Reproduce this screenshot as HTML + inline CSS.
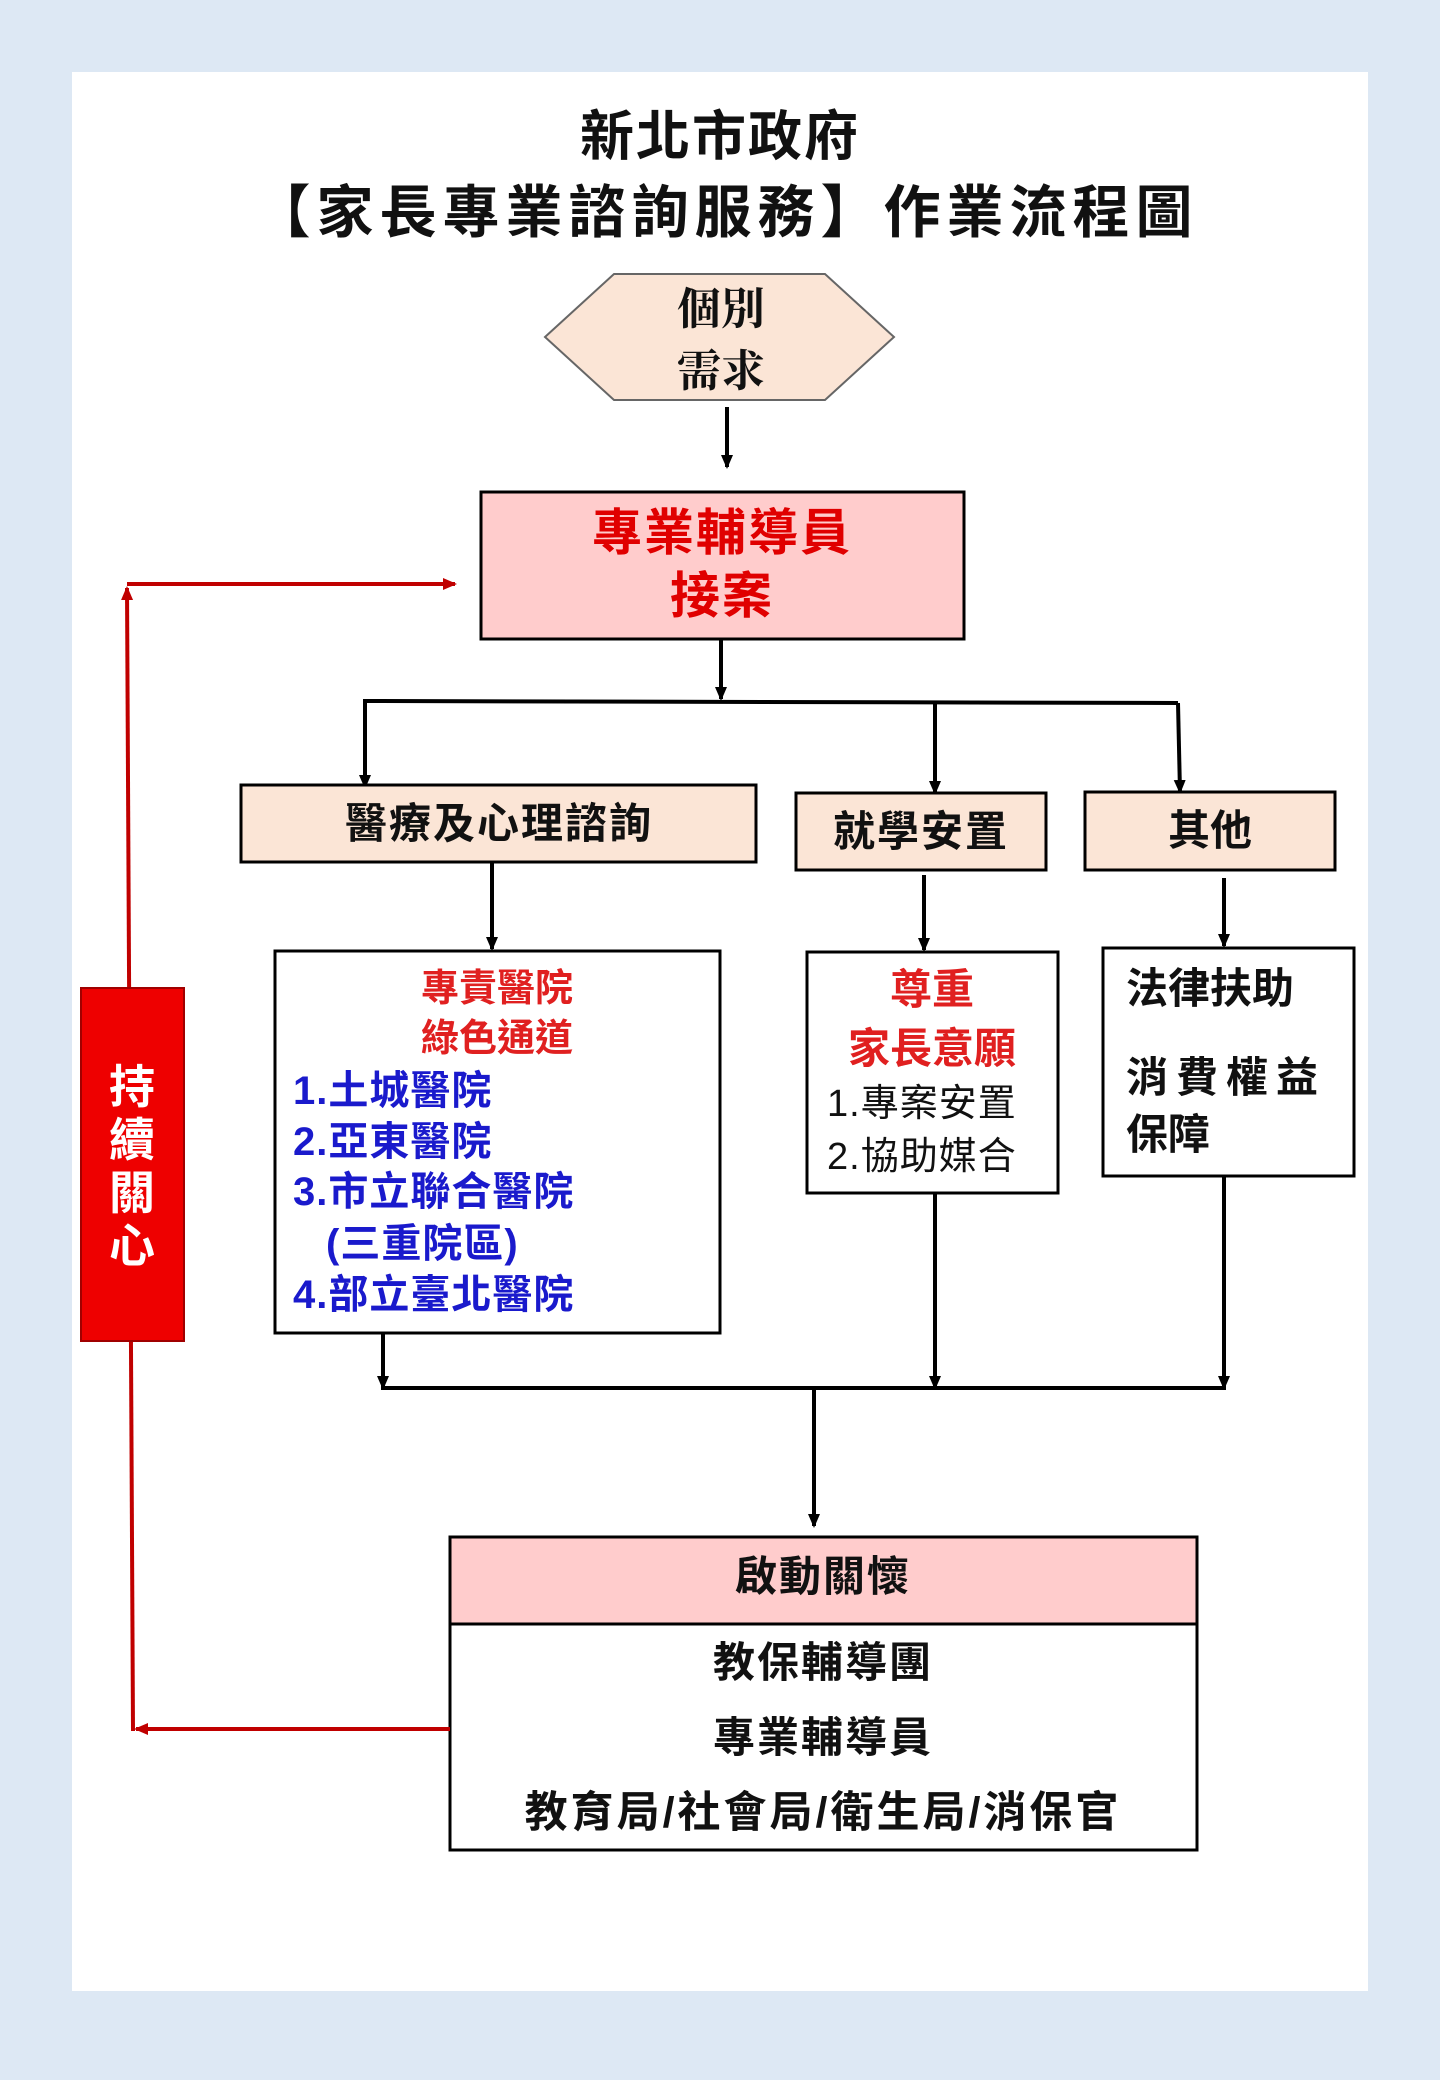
<!DOCTYPE html>
<html><head><meta charset="utf-8"><style>
html,body{margin:0;padding:0;background:#dde8f4;}
svg{display:block}
text{font-family:"Liberation Sans","Noto Sans CJK TC",sans-serif;font-weight:bold}
</style></head><body>
<svg width="1440" height="2080" viewBox="0 0 1440 2080" xmlns="http://www.w3.org/2000/svg">
<defs>
<marker id="ar" markerWidth="14" markerHeight="12" refX="12" refY="6" orient="auto" markerUnits="userSpaceOnUse"><path d="M0,0 L14,6 L0,12 z" fill="#c00000"/></marker>
<marker id="ak" markerWidth="14" markerHeight="12" refX="12" refY="6" orient="auto" markerUnits="userSpaceOnUse"><path d="M0,0 L14,6 L0,12 z" fill="#000"/></marker>
</defs>
<rect x="0" y="0" width="1440" height="2080" fill="#dde8f4"/>
<rect x="72" y="72" width="1296" height="1919" fill="#fff"/>

<text x="720" y="155" font-size="54" text-anchor="middle" fill="#111" letter-spacing="2">新北市政府</text>
<text x="726" y="232" font-size="57" text-anchor="middle" fill="#111" letter-spacing="6">【家長專業諮詢服務】作業流程圖</text>

<polygon points="545,337 614,274 825,274 894,337 825,400 614,400" fill="#fbe5d6" stroke="#666" stroke-width="2"/>
<text x="721" y="324" font-size="44" text-anchor="middle" fill="#111" style="font-family:'Noto Serif CJK SC','Liberation Serif',serif">個別</text>
<text x="721" y="386" font-size="44" text-anchor="middle" fill="#111" style="font-family:'Noto Serif CJK SC','Liberation Serif',serif">需求</text>
<line x1="727" y1="407" x2="727" y2="467" stroke="#000" stroke-width="4" marker-end="url(#ak)"/>

<rect x="481" y="492" width="483" height="147" fill="#ffcccc" stroke="#000" stroke-width="3"/>
<text x="722" y="550" font-size="50" text-anchor="middle" fill="#e00000" letter-spacing="2">專業輔導員</text>
<text x="722" y="613" font-size="50" text-anchor="middle" fill="#e00000" letter-spacing="2">接案</text>

<g stroke="#000" stroke-width="4" fill="none">
<line x1="721" y1="639" x2="721" y2="699" marker-end="url(#ak)"/>
<line x1="363" y1="701" x2="1178" y2="703"/>
<line x1="365" y1="701" x2="365" y2="787" marker-end="url(#ak)"/>
<line x1="935" y1="701" x2="935" y2="793" marker-end="url(#ak)"/>
<line x1="1178" y1="703" x2="1180" y2="792" marker-end="url(#ak)"/>
<line x1="492" y1="862" x2="492" y2="949" marker-end="url(#ak)"/>
<line x1="924" y1="875" x2="924" y2="950" marker-end="url(#ak)"/>
<line x1="1224" y1="878" x2="1224" y2="946" marker-end="url(#ak)"/>
</g>

<rect x="241" y="785" width="515" height="77" fill="#fbe5d6" stroke="#000" stroke-width="3"/>
<text x="499" y="838" font-size="42" text-anchor="middle" fill="#111" letter-spacing="2">醫療及心理諮詢</text>
<rect x="796" y="793" width="250" height="77" fill="#fbe5d6" stroke="#000" stroke-width="3"/>
<text x="921" y="846" font-size="42" text-anchor="middle" fill="#111" letter-spacing="2">就學安置</text>
<rect x="1085" y="792" width="250" height="78" fill="#fbe5d6" stroke="#000" stroke-width="3"/>
<text x="1210" y="845" font-size="42" text-anchor="middle" fill="#111">其他</text>

<rect x="275" y="951" width="445" height="382" fill="#fff" stroke="#000" stroke-width="3"/>
<text x="497" y="1001" font-size="38" text-anchor="middle" fill="#e02020">專責醫院</text>
<text x="497" y="1051" font-size="38" text-anchor="middle" fill="#e02020">綠色通道</text>
<g font-size="40" fill="#1a1acc" letter-spacing="1">
<text x="293" y="1104">1.土城醫院</text>
<text x="293" y="1155">2.亞東醫院</text>
<text x="293" y="1205">3.市立聯合醫院</text>
<text x="326" y="1257">(三重院區)</text>
<text x="293" y="1308">4.部立臺北醫院</text>
</g>

<rect x="807" y="952" width="251" height="241" fill="#fff" stroke="#000" stroke-width="3"/>
<text x="932" y="1004" font-size="42" text-anchor="middle" fill="#e02020">尊重</text>
<text x="932" y="1063" font-size="42" text-anchor="middle" fill="#e02020">家長意願</text>
<text x="827" y="1116" font-size="38" fill="#111" style="font-weight:normal" letter-spacing="1">1.專案安置</text>
<text x="827" y="1169" font-size="38" fill="#111" style="font-weight:normal" letter-spacing="1">2.協助媒合</text>

<rect x="1103" y="948" width="251" height="228" fill="#fff" stroke="#000" stroke-width="3"/>
<text x="1126" y="1003" font-size="42" fill="#111">法律扶助</text>
<text x="1126" y="1092" font-size="42" fill="#111" letter-spacing="8">消費權益</text>
<text x="1126" y="1149" font-size="42" fill="#111">保障</text>

<g stroke="#000" stroke-width="4" fill="none">
<line x1="383" y1="1333" x2="383" y2="1388" marker-end="url(#ak)"/>
<line x1="935" y1="1193" x2="935" y2="1388" marker-end="url(#ak)"/>
<line x1="1224" y1="1176" x2="1224" y2="1388" marker-end="url(#ak)"/>
<line x1="381" y1="1388" x2="1226" y2="1388"/>
<line x1="814" y1="1388" x2="814" y2="1526" marker-end="url(#ak)"/>
</g>

<rect x="450" y="1537" width="747" height="313" fill="#fff" stroke="#000" stroke-width="3"/>
<rect x="450" y="1537" width="747" height="87" fill="#ffcccc" stroke="#000" stroke-width="3"/>
<text x="823" y="1591" font-size="42" text-anchor="middle" fill="#111" letter-spacing="2">啟動關懷</text>
<text x="823" y="1677" font-size="42" text-anchor="middle" fill="#111" letter-spacing="2">教保輔導團</text>
<text x="823" y="1752" font-size="42" text-anchor="middle" fill="#111" letter-spacing="2">專業輔導員</text>
<text x="823" y="1827" font-size="43" text-anchor="middle" fill="#111" letter-spacing="3">教育局/社會局/衛生局/消保官</text>

<g stroke="#c00000" stroke-width="4" fill="none">
<line x1="450" y1="1729" x2="136" y2="1729" marker-end="url(#ar)"/>
<line x1="133" y1="1731" x2="127" y2="588" marker-end="url(#ar)"/>
<line x1="127" y1="584" x2="455" y2="584" marker-end="url(#ar)"/>
</g>
<rect x="81" y="988" width="103" height="353" fill="#ee0000" stroke="#a00000" stroke-width="2"/>
<g font-size="46" fill="#fff" text-anchor="middle">
<text x="132" y="1103">持</text>
<text x="132" y="1156">續</text>
<text x="132" y="1209">關</text>
<text x="132" y="1262">心</text>
</g>
</svg>
</body></html>
